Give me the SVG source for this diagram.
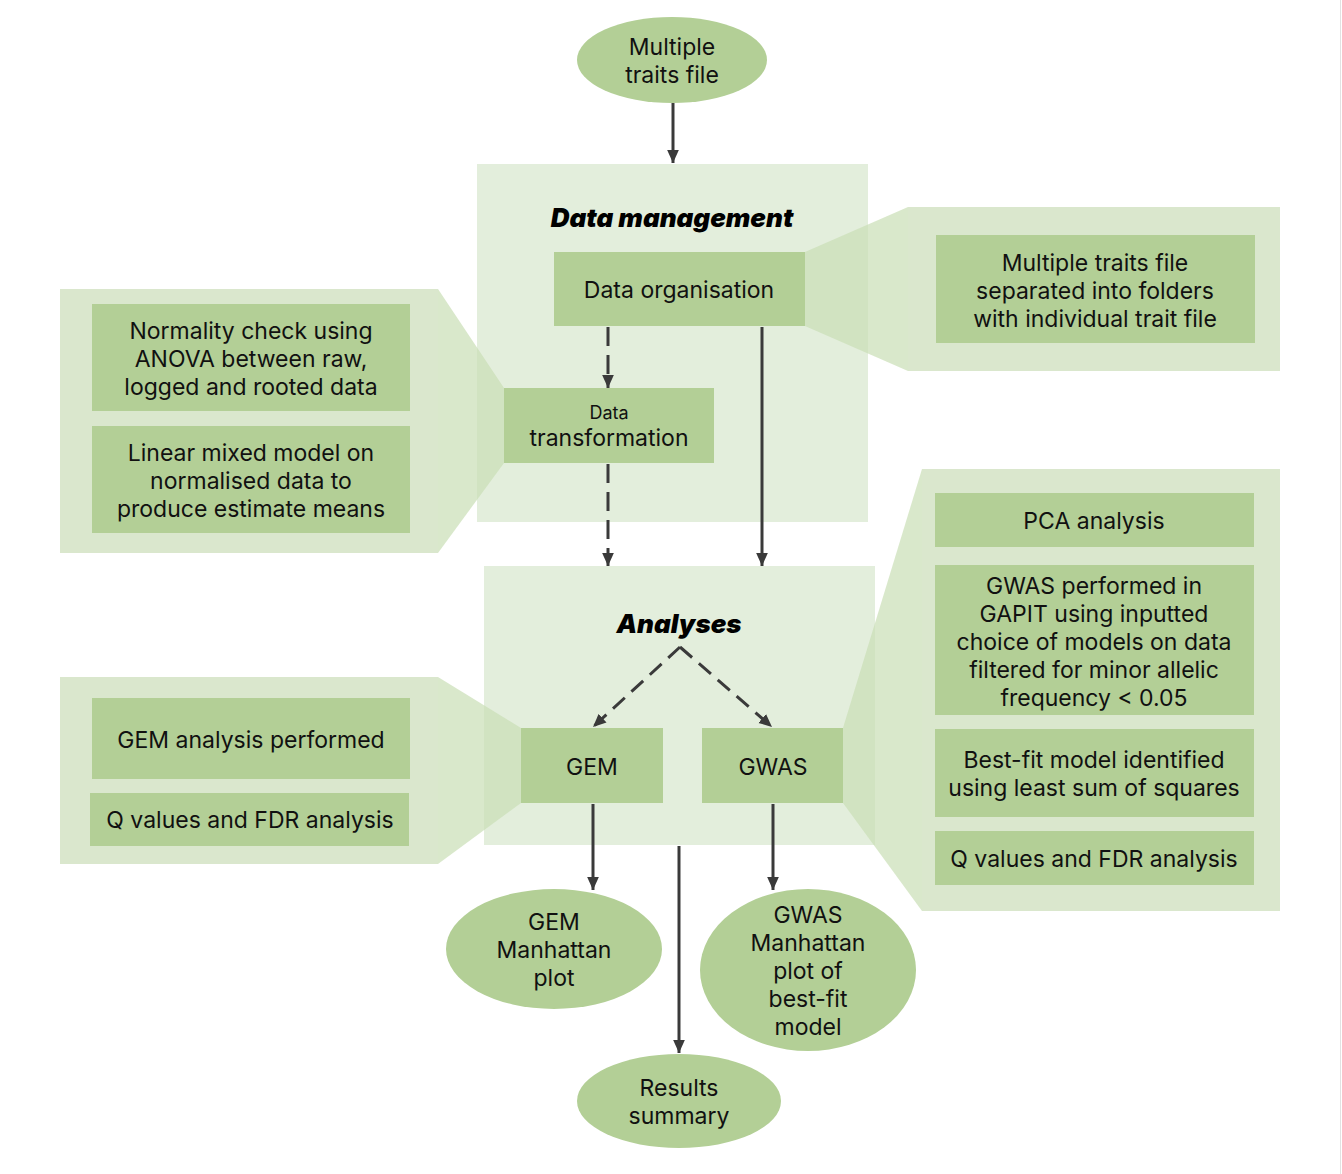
<svg xmlns="http://www.w3.org/2000/svg" width="1342" height="1174" viewBox="0 0 1342 1174">
<defs>
<style>
.t{font-family:Inter,"Liberation Sans",Arial,sans-serif;font-size:23px;fill:#111;text-anchor:middle;dominant-baseline:central}
.s{font-size:18px}
.h{font-family:Inter,"Liberation Sans",Arial,sans-serif;font-size:26px;font-weight:900;font-style:italic;fill:#000;text-anchor:middle}
.node{fill:#b3cf96}
.panel{fill:#dae7cd}
.funnel{fill:#c9deb5;fill-opacity:0.7}
.cont{fill:#e3eedc}
.ln{stroke:#3a3a3a;stroke-width:3;fill:none}
.dash{stroke-dasharray:19 9}
.ddash{stroke-dasharray:16 9}
</style>
<marker id="ah" viewBox="0 0 10 10" refX="10" refY="5" markerWidth="13" markerHeight="13" markerUnits="userSpaceOnUse" orient="auto">
<path d="M0,0.5 L10,5 L0,9.5 z" fill="#3a3a3a"/>
</marker>
</defs>
<rect width="1342" height="1174" fill="#fff"/>
<line x1="1340.5" y1="0" x2="1340.5" y2="1174" stroke="#e2e2e2" stroke-width="1"/>

<g id="container-data-management">
<rect class="cont" x="477" y="164" width="391" height="358"/>
<text class="h" x="672" y="227">Data management</text>
</g>
<g id="container-analyses">
<rect class="cont" x="484" y="566" width="391" height="279"/>
<text class="h" x="679" y="633">Analyses</text>
</g>

<g id="callout-organisation">
<rect class="panel" x="908" y="207" width="372" height="164"/>
<polygon class="funnel" points="805,252 908,207 908,371 805,326"/>
<rect class="node" x="936" y="235" width="319" height="108"/>
<text class="t" x="1095" y="263">Multiple traits file</text>
<text class="t" x="1095" y="291">separated into folders</text>
<text class="t" x="1095" y="319">with individual trait file</text>
</g>

<g id="callout-transformation">
<rect class="panel" x="60" y="289" width="378" height="264"/>
<polygon class="funnel" points="438,289 504,388 504,463 438,553"/>
<rect class="node" x="92" y="304" width="318" height="107"/>
<text class="t" x="251" y="331">Normality check using</text>
<text class="t" x="251" y="359">ANOVA between raw,</text>
<text class="t" x="251" y="387">logged and rooted data</text>
<rect class="node" x="92" y="426" width="318" height="107"/>
<text class="t" x="251" y="453">Linear mixed model on</text>
<text class="t" x="251" y="481">normalised data to</text>
<text class="t" x="251" y="509">produce estimate means</text>
</g>

<g id="callout-gem">
<rect class="panel" x="60" y="677" width="378" height="187"/>
<polygon class="funnel" points="438,677 521,728 521,803 438,864"/>
<rect class="node" x="92" y="698" width="318" height="81"/>
<text class="t" x="251" y="740">GEM analysis performed</text>
<rect class="node" x="90" y="793" width="319" height="53"/>
<text class="t" x="250" y="820">Q values and FDR analysis</text>
</g>

<g id="callout-gwas">
<rect class="panel" x="922" y="469" width="358" height="442"/>
<polygon class="funnel" points="843,728 922,469 922,911 843,803"/>
<rect class="node" x="935" y="493" width="319" height="54"/>
<text class="t" x="1094" y="521">PCA analysis</text>
<rect class="node" x="935" y="565" width="319" height="150"/>
<text class="t" x="1094" y="586">GWAS performed in</text>
<text class="t" x="1094" y="614">GAPIT using inputted</text>
<text class="t" x="1094" y="642">choice of models on data</text>
<text class="t" x="1094" y="670">filtered for minor allelic</text>
<text class="t" x="1094" y="698">frequency &lt; 0.05</text>
<rect class="node" x="935" y="729" width="319" height="88"/>
<text class="t" x="1094" y="760">Best-fit model identified</text>
<text class="t" x="1094" y="788">using least sum of squares</text>
<rect class="node" x="935" y="831" width="319" height="54"/>
<text class="t" x="1094" y="859">Q values and FDR analysis</text>
</g>

<g id="node-multiple-traits">
<ellipse class="node" cx="672" cy="60" rx="95" ry="43"/>
<text class="t" x="672" y="47">Multiple</text>
<text class="t" x="672" y="75">traits file</text>
</g>
<g id="node-data-organisation">
<rect class="node" x="554" y="252" width="251" height="74"/>
<text class="t" x="679" y="290">Data organisation</text>
</g>
<g id="node-data-transformation">
<rect class="node" x="504" y="388" width="210" height="75"/>
<text class="t s" x="609" y="412">Data</text>
<text class="t" x="609" y="438">transformation</text>
</g>
<g id="node-gem">
<rect class="node" x="521" y="728" width="142" height="75"/>
<text class="t" x="592" y="767">GEM</text>
</g>
<g id="node-gwas">
<rect class="node" x="702" y="728" width="141" height="75"/>
<text class="t" x="773" y="767">GWAS</text>
</g>
<g id="node-gem-manhattan">
<ellipse class="node" cx="554" cy="949" rx="108" ry="60"/>
<text class="t" x="554" y="922">GEM</text>
<text class="t" x="554" y="950">Manhattan</text>
<text class="t" x="554" y="978">plot</text>
</g>
<g id="node-gwas-manhattan">
<ellipse class="node" cx="808" cy="970" rx="108" ry="81"/>
<text class="t" x="808" y="915">GWAS</text>
<text class="t" x="808" y="943">Manhattan</text>
<text class="t" x="808" y="971">plot of</text>
<text class="t" x="808" y="999">best-fit</text>
<text class="t" x="808" y="1027">model</text>
</g>
<g id="node-results">
<ellipse class="node" cx="679" cy="1101" rx="102" ry="47"/>
<text class="t" x="679" y="1088">Results</text>
<text class="t" x="679" y="1116">summary</text>
</g>

<g id="connectors">
<path class="ln" d="M673,103 V163" marker-end="url(#ah)"/>
<path class="ln dash" d="M608,327 V388" marker-end="url(#ah)"/>
<path class="ln dash" d="M608,464 V566" marker-end="url(#ah)"/>
<path class="ln" d="M762,327 V566" marker-end="url(#ah)"/>
<path class="ln ddash" d="M680,647 L593,727" marker-end="url(#ah)"/>
<path class="ln ddash" d="M680,647 L772,727" marker-end="url(#ah)"/>
<path class="ln" d="M593,804 V890" marker-end="url(#ah)"/>
<path class="ln" d="M773,804 V890" marker-end="url(#ah)"/>
<path class="ln" d="M679,846 V1053" marker-end="url(#ah)"/>
</g>
</svg>
